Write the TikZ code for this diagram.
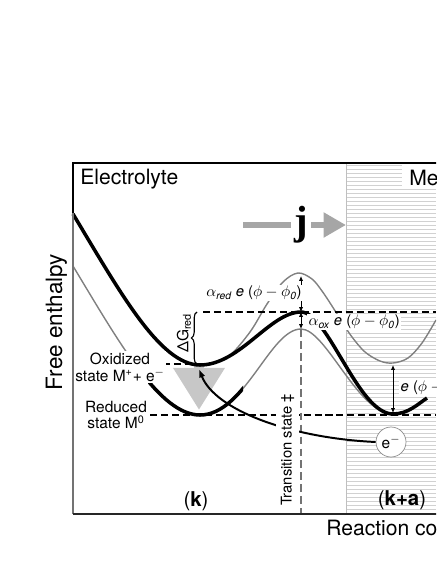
\documentclass[tikz,border=0pt]{standalone}
\usepackage{fontspec}
\setmainfont{TeX Gyre Heros}
\newfontfamily\jfont{Liberation Serif}
\usetikzlibrary{arrows.meta,decorations.pathreplacing}

\begin{document}
\begin{tikzpicture}[x=0.025cm,y=-0.025cm,
  thickcurve/.style={line width=2.5pt},
  graycurve/.style={line width=1pt,black!50},
  levelline/.style={line width=1.4pt,dash pattern=on 5pt off 2.8pt},
  hatchline/.style={line width=0.5pt,black!18},
  smallarrow/.style={{Latex[length=3.5pt,width=3pt]}-{Latex[length=3.5pt,width=3pt]},line width=0.6pt},
  biglabel/.style={font=\fontsize{15}{17}\selectfont,inner sep=0pt},
  statelabel/.style={font=\fontsize{11}{12}\selectfont,align=center,fill=white,inner sep=1pt},
  energylabel/.style={font=\fontsize{10.5}{12}\selectfont,fill=white,inner sep=1pt}]

\useasboundingbox (0,0) rectangle (436,564);
\clip (0,0) rectangle (436,564);

% metal side
\foreach \y in {165,169,...,513}
  \draw[hatchline] (346,\y) -- (436,\y);
\draw[black!25] (346,163) -- (346,514);
\fill[white] (402,164) rectangle (436,189);

% points on the curves
\coordinate (oxmin) at (200,365);
\coordinate (redmin) at (200,415);
\coordinate (tsup) at (301,276);
\coordinate (tsmid) at (301,312);
\coordinate (tslow) at (301,329);
\coordinate (metupper) at (393,365);
\coordinate (metlower) at (393,413);
\coordinate (oxtip) at (199,369);

% current
\draw[line width=4.3pt,black!35,-{Triangle[length=16pt,width=17pt]}] (243,225) -- (346,225);
\node[fill=white,inner sep=2pt,font=\fontsize{29}{30}\selectfont\jfont\bfseries] (j) at (301,225) {j};

% big gray arrow
\draw[line width=7pt,black!22,-{Triangle[length=30pt,width=35pt]}] (199,364) -- (199,410);

% gray curves
\draw[graycurve] plot[smooth,tension=0.55] coordinates {(208,364) (228,357) (250,332) (267,304) (283,282) (298,273) (312,279) (322,291) (332,306) (342,322) (352,337) (365,352) (380,361) (393,363) (408,358) (422,343) (436,320)};
\draw[graycurve] (73,266) .. controls (120,344) and (160,415) .. (redmin)
  .. controls (245,415) and (270,329) .. (tslow)
  .. controls (326,329) and (358,414) .. (393,414);

% thick curves
\draw[thickcurve] (73,214) .. controls (120,292) and (160,365) .. (oxmin)
  .. controls (240,365) and (270,312) .. (tsmid)
  .. controls (328,312) and (358,414) .. (393,414)
  .. controls (408,414) and (418,404) .. (427,398);
\begin{scope}
  \clip (148,330) rectangle (243,430);
  \draw[thickcurve] (73,266) .. controls (120,344) and (160,415) .. (redmin)
    .. controls (245,415) and (270,329) .. (tslow);
\end{scope}

% levels
\draw[levelline] (203,312) -- (436,312);
\draw[levelline] (152,364) -- (196,364);
\draw[levelline] (150,415) -- (436,415);
\draw[black!55,line width=1pt,dash pattern=on 5.5pt off 3pt] (tslow) -- (301,514);

% energy differences
\draw[decorate,decoration={brace,amplitude=4pt},line width=0.8pt] (197,364) -- (197,312);
\node[rotate=90,font=\fontsize{11}{12}\selectfont] (dgred) at (184,333) {ΔG\textsubscript{red}};
\draw[smallarrow] (tsup) -- (tsmid);
\draw[smallarrow] (tsmid) -- (tslow);
\draw[smallarrow] (metupper) -- (metlower);
\node[energylabel] (alphared) at (254,293) {$\alpha$\textsubscript{\itshape red} {\itshape e} ($\phi-\phi_{\mathit{0}}$)};
\node[energylabel,anchor=west] (alphaox) at (307,322) {$\alpha$\textsubscript{\itshape ox} {\itshape e} ($\phi-\phi_{\mathit{0}}$)};
\node[energylabel,anchor=west] (shift) at (399,388) {{\itshape e} ($\phi-\phi_{\mathit{0}}$)};

% electron transfer
\node[circle,draw=black!45,fill=white,line width=0.5pt,minimum size=0.75cm,inner sep=0pt,font=\fontsize{11}{12}\selectfont] (eminus) at (391,442) {e\textsuperscript{$-$}};
\draw[line width=1.4pt,-{Latex[length=6pt,width=4.5pt]}] (eminus.west) .. controls (290,438) and (215,410) .. (oxtip);
\node[rotate=90,fill=white,inner sep=3.2pt,font=\fontsize{10.5}{12}\selectfont] (ts) at (287.5,450) {Transition state ‡};

% labels
\node[statelabel] (oxstate) at (120,367) {Oxidized\\state M\textsuperscript{+}+ e\textsuperscript{$-$}};
\node[statelabel] (redstate) at (116,415) {Reduced\\state M\textsuperscript{0}};
\node[biglabel,anchor=base west] (electrolyte) at (80,184) {Electrolyte};
\node[biglabel,anchor=base west] (metal) at (409,185) {Metal};
\node[biglabel,anchor=base,font=\fontsize{14.5}{16}\selectfont] (kpos) at (196,506) {(\textbf{k})};
\node[biglabel,anchor=base,font=\fontsize{14.5}{16}\selectfont] (kapos) at (402,505) {(\textbf{k+a})};
\node[biglabel,anchor=base west] (xlabel) at (326,535) {Reaction coordinate};
\node[biglabel,anchor=base,rotate=90,font=\fontsize{16}{18}\selectfont] (ylabel) at (62,322) {Free enthalpy};

% frame
\draw[line width=1pt] (73,213) -- (73,163) -- (440,163);
\draw[line width=1pt,black!55] (73,213) -- (73,514);
\draw[line width=1pt,black!85] (73,514) -- (440,514);
\end{tikzpicture}
\end{document}
